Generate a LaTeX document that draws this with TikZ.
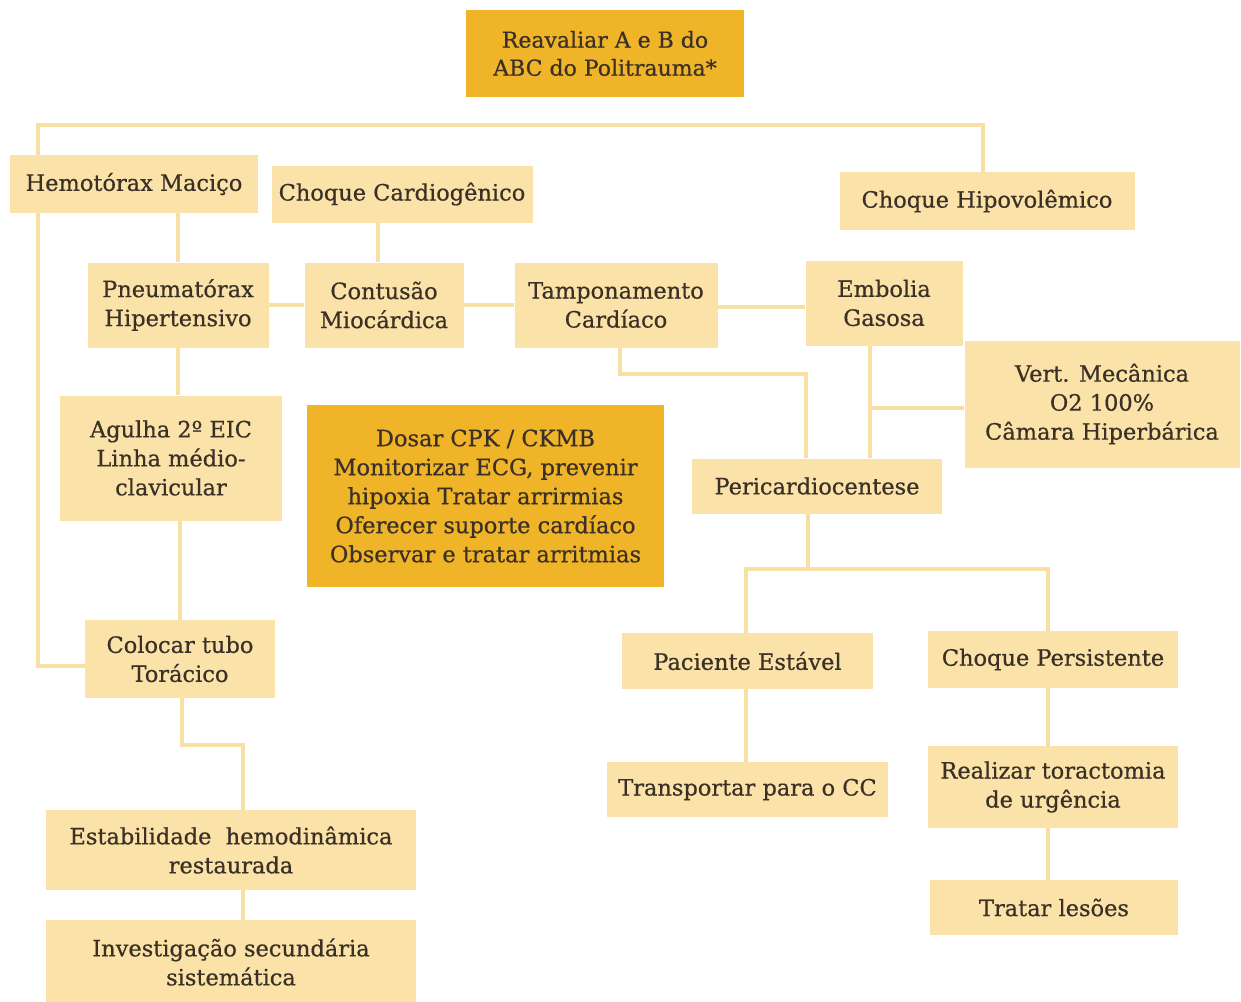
\documentclass[tikz,border=0pt]{standalone}
\usepackage{fontspec}
\setmainfont{DejaVu Serif}[BoldFont=DejaVu Serif, BoldFeatures={FakeBold=0.6}]
\usetikzlibrary{calc}
\definecolor{lightbox}{RGB}{250,226,168}
\definecolor{darkbox}{RGB}{239,180,40}
\definecolor{connc}{RGB}{248,224,165}
\definecolor{txt}{RGB}{58,48,38}
\tikzset{
  lbox/.style={fill=lightbox, draw=none, align=center, text=txt, inner sep=0pt,
    font=\fontsize{22.5}{29}\selectfont\bfseries},
  dbox/.style={lbox, fill=darkbox},
  conn/.style={draw=connc, line width=4pt},
}
\begin{document}
\begin{tikzpicture}[x=1pt,y=-1pt]
\useasboundingbox (0,0) rectangle (1241,1001);
\fill[white] (0,0) rectangle (1241,1001);

% nodes
\node[dbox, minimum width=278, minimum height=87, font=\fontsize{22}{28}\selectfont\bfseries] (top) at (605,53.5) {Reavaliar A e B do\\ABC do Politrauma*};
\node[lbox, minimum width=248, minimum height=58] (hemo) at (134,184) {Hemotórax Maciço};
\node[lbox, minimum width=261, minimum height=57] (cardio) at (402,194) {Choque Cardiogênico};
\node[lbox, minimum width=295, minimum height=58] (hipo) at (987,201) {Choque Hipovolêmico};
\node[lbox, minimum width=181, minimum height=85] (pneu) at (178,305) {Pneumatórax\\Hipertensivo};
\node[lbox, minimum width=159, minimum height=85] (cont) at (384,305) {Contusão\\Miocárdica};
\node[lbox, minimum width=203, minimum height=85] (tamp) at (616,305) {Tamponamento\\Cardíaco};
\node[lbox, minimum width=157, minimum height=85] (emb) at (884,303) {Embolia\\Gasosa};
\node[lbox, minimum width=275, minimum height=127] (vert) at (1102,404) {Vert. Mecânica\\O2 100\%\\Câmara Hiperbárica};
\node[lbox, minimum width=222, minimum height=125] (agu) at (171,458) {Agulha 2º EIC\\Linha médio-\\clavicular};
\node[dbox, minimum width=357, minimum height=182] (dosar) at (485.5,496) {Dosar CPK / CKMB\\Monitorizar ECG, prevenir\\hipoxia Tratar arrirmias\\Oferecer suporte cardíaco\\Observar e tratar arritmias};
\node[lbox, minimum width=250, minimum height=55] (peri) at (817,486) {Pericardiocentese};
\node[lbox, minimum width=190, minimum height=78] (col) at (180,659) {Colocar tubo\\Torácico};
\node[lbox, minimum width=251, minimum height=56] (pac) at (747.5,661) {Paciente Estável};
\node[lbox, minimum width=250, minimum height=57] (pers) at (1053,659.5) {Choque Persistente};
\node[lbox, minimum width=281, minimum height=55] (trans) at (747.5,789.5) {Transportar para o CC};
\node[lbox, minimum width=250, minimum height=82] (real) at (1053,787) {Realizar toractomia\\de urgência};
\node[lbox, minimum width=248, minimum height=55] (trat) at (1054,907.5) {Tratar lesões};
\node[lbox, minimum width=370, minimum height=80] (estab) at (231,850) {Estabilidade\ \ hemodinâmica\\restaurada};
\node[lbox, minimum width=370, minimum height=84] (inv) at (231,962) {Investigação secundária\\sistemática};

% connectors
\coordinate (tl) at (38,125);
\coordinate (tr) at (983,125);
\draw[conn] (hemo.north -| tl) -- (tl) -- (tr) -- (hipo.north -| tr);
\draw[conn] (hemo.south -| tl) |- ([yshift=-7]col.west);
\draw[conn] (pneu.north) -- (pneu.north |- hemo.south);
\draw[conn] (pneu.south) -- (pneu.south |- agu.north);
\draw[conn] (col.north) -- (col.north |- agu.south);
\draw[conn] (pneu.east) -- (cont.west);
\draw[conn] ([xshift=-6]cont.north) -- ([xshift=-6]cont.north |- cardio.south);
\draw[conn] (cont.east) -- (tamp.west);
\draw[conn] ([yshift=-2]tamp.east) -- ([yshift=-2]tamp.east -| emb.west);
\draw[conn] ([xshift=4]tamp.south) -- ++(0,26) -| ([xshift=-11]peri.north);
\draw[conn] ([xshift=-14]emb.south) -- ([xshift=-14]emb.south |- peri.north);
\draw[conn] ([xshift=-14,yshift=-4]emb.south |- vert.west) -- ([yshift=-4]vert.west);
\draw[conn] ([xshift=-9]peri.south) -- ++(0,55) coordinate (pj);
\draw[conn] ([xshift=-2]pac.north) -- ([xshift=-2]pac.north |- pj) -- ([xshift=-5]pers.north |- pj) -- ([xshift=-5]pers.north);
\draw[conn] ([xshift=-2]pac.south) -- ([xshift=-2]trans.north);
\draw[conn] ([xshift=-5]pers.south) -- ([xshift=-5]real.north);
\draw[conn] ([xshift=-5]real.south) -- ([xshift=-6]trat.north);
\draw[conn] ([xshift=2]col.south) -- ++(0,47) coordinate (cj) -| ([xshift=12]estab.north);
\draw[conn] ([xshift=12]estab.south) -- ([xshift=12]inv.north);
\end{tikzpicture}
\end{document}
